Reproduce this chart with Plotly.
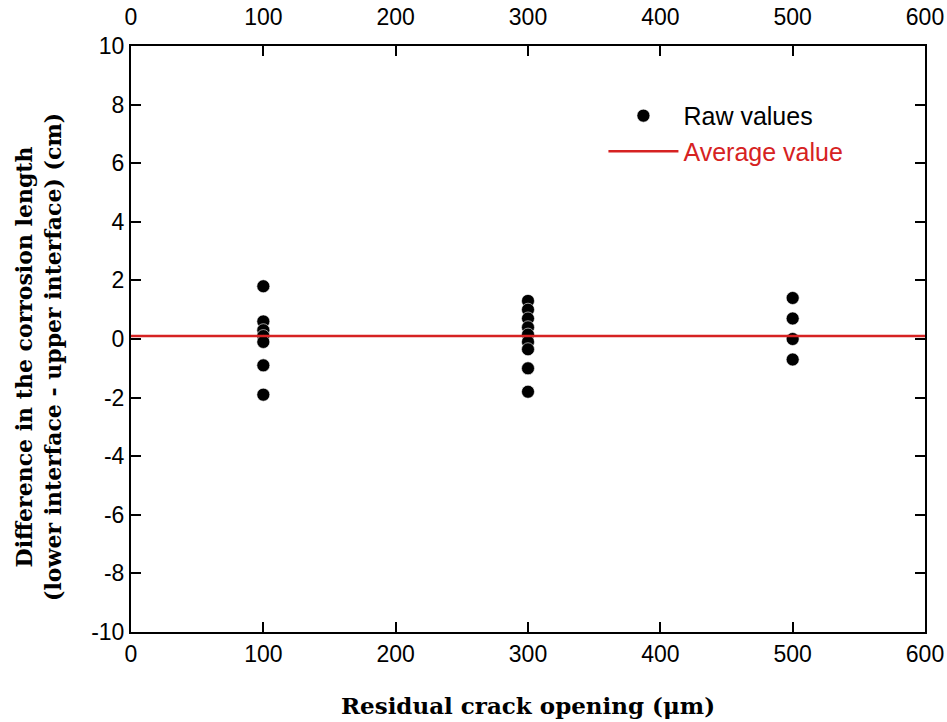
import plotly.graph_objects as go

# ---- data ----
x_100 = [100] * 7
y_100 = [1.8, 0.6, 0.3, 0.1, -0.1, -0.9, -1.9]
x_300 = [300] * 9
y_300 = [1.3, 1.0, 0.7, 0.4, 0.15, -0.1, -0.35, -1.0, -1.8]
x_500 = [500] * 4
y_500 = [1.4, 0.7, 0.0, -0.7]
average_value = 0.1
x_range = [0, 600]
y_range = [-10, 10]
x_ticks = [0, 100, 200, 300, 400, 500, 600]
y_ticks = [-10, -8, -6, -4, -2, 0, 2, 4, 6, 8, 10]
y_ticklabels = ["-10", "-8", "-6", "-4", "-2", "0", "2", "4", "6", "8", "10"]

xs = x_100 + x_300 + x_500
ys = y_100 + y_300 + y_500

RED = "#d62222"
TICKFONT = dict(family="Liberation Sans, Arial, sans-serif", size=23, color="black")
TITLEFONT = dict(family="DejaVu Serif, serif", size=23, color="black")

fig = go.Figure()
fig.add_trace(go.Scatter(
    x=xs, y=ys, mode="markers", name="Raw values",
    marker=dict(color="black", size=13, line=dict(color="white", width=0.6)),
))
fig.add_trace(go.Scatter(
    x=x_range, y=[average_value, average_value], mode="lines",
    name=f"<span style='color:{RED}'>Average value</span>",
    line=dict(color=RED, width=2.5),
))
# invisible trace to activate the top axis
fig.add_trace(go.Scatter(x=x_range, y=[average_value, average_value], xaxis="x2",
                         mode="lines", line=dict(width=0), showlegend=False,
                         hoverinfo="skip"))

axis_common = dict(showgrid=False, zeroline=False, ticks="inside", ticklen=10,
                   tickwidth=2, tickcolor="black", showline=True, linecolor="black",
                   linewidth=2, tickfont=TICKFONT, automargin=False)

fig.update_layout(
    width=947, height=722,
    paper_bgcolor="white", plot_bgcolor="white",
    margin=dict(l=131, r=22, t=46, b=90),
    xaxis=dict(range=x_range, tickvals=x_ticks, mirror=True,
               title=dict(text="<b>Residual crack opening (μm)</b>", font=TITLEFONT, standoff=32),
               **axis_common),
    xaxis2=dict(range=x_range, tickvals=x_ticks, overlaying="x", side="top",
                ticklabelstandoff=10, **axis_common),
    yaxis=dict(range=y_range, tickvals=y_ticks, ticktext=y_ticklabels, mirror="ticks",
               **axis_common),
    annotations=[dict(
        text="<b>Difference in the corrosion length<br>(lower interface - upper interface) (cm)</b>",
        font=dict(family="DejaVu Serif, serif", size=22, color="black"),
        textangle=-90, xref="paper", yref="paper", x=0, y=0.5,
        xanchor="center", yanchor="middle", xshift=-93, yshift=-18,
        showarrow=False, align="center",
    )],
    legend=dict(x=0.595, y=0.92, xanchor="left", yanchor="top",
                bgcolor="rgba(0,0,0,0)", font=dict(family="Liberation Sans, Arial, sans-serif", size=25, color="black"),
                itemwidth=70, tracegroupgap=0),
    showlegend=True,
)

fig.write_html("out.html", config={"displayModeBar": False},
               post_script="document.body.style.margin='0';document.body.style.overflow='hidden';")
